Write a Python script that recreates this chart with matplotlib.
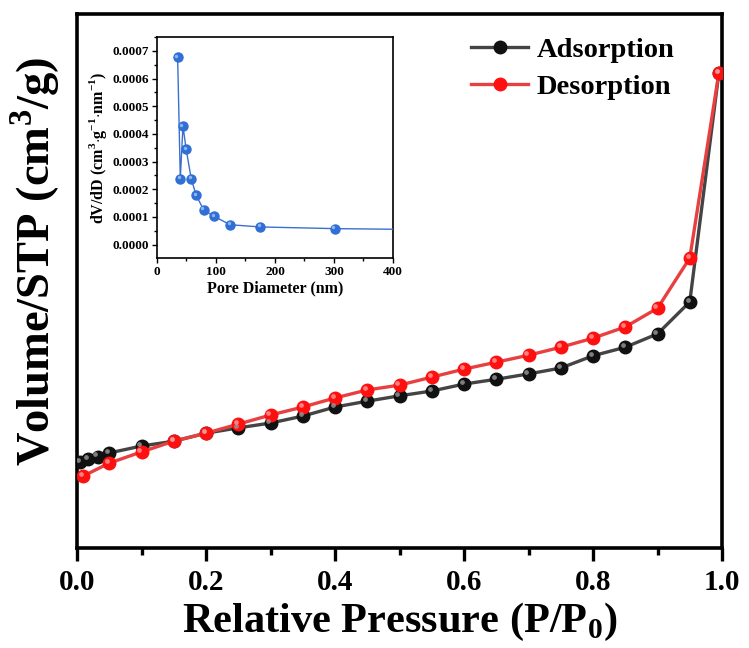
import numpy as np
import matplotlib
matplotlib.use("Agg")
import matplotlib.pyplot as plt
from matplotlib.transforms import offset_copy
from matplotlib.ticker import MultipleLocator, NullLocator

plt.rcParams['font.family'] = ['Liberation Serif', 'DejaVu Serif']
plt.rcParams['font.weight'] = 'bold'
plt.rcParams['mathtext.fontset'] = 'custom'
plt.rcParams['mathtext.rm'] = 'Liberation Serif:bold'
plt.rcParams['mathtext.bf'] = 'Liberation Serif:bold'

# -----------------------------
# Isotherm data (arbitrary volume units)
# -----------------------------
ads_p = [0.005, 0.017, 0.032, 0.05, 0.10, 0.15, 0.20, 0.25, 0.30, 0.35, 0.40,
         0.45, 0.50, 0.55, 0.60, 0.65, 0.70, 0.75, 0.80, 0.85, 0.90, 0.95, 0.995]
ads_v = [16.1, 16.7, 17.1, 17.8, 19.1, 20.0, 21.5, 22.5, 23.4, 24.7, 26.4,
         27.5, 28.5, 29.4, 30.7, 31.6, 32.6, 33.7, 36.0, 37.6, 40.1, 46.1, 88.9]

des_p = [0.01, 0.05, 0.10, 0.15, 0.20, 0.25, 0.30, 0.35, 0.40, 0.45, 0.50,
         0.55, 0.60, 0.65, 0.70, 0.75, 0.80, 0.85, 0.90, 0.95, 0.995]
des_v = [13.5, 15.9, 18.0, 20.0, 21.5, 23.2, 24.9, 26.4, 28.1, 29.6, 30.5,
         32.0, 33.5, 34.8, 36.1, 37.6, 39.3, 41.4, 44.9, 54.3, 88.9]

# pore size distribution (inset)
pore_d = [35, 39.5, 44, 49.5, 58, 66.5, 79, 97, 124, 175, 301, 430]
pore_dv = [0.000676, 0.000238, 0.000428, 0.000344, 0.000238, 0.000178,
           0.000126, 0.000102, 0.000072, 0.000064, 0.000058, 0.000055]


def sphere(ax, x, y, color, light, ms, lw, lc, label=None):
    ax.plot(x, y, '-', color=lc, lw=lw, marker='o', ms=ms, mfc=color,
            mec=color, label=label, zorder=3)
    hl = offset_copy(ax.transData, fig=ax.figure, x=-ms * 0.18, y=ms * 0.18,
                     units='points')
    ax.plot(x, y, 'o', ms=ms * 0.38, mfc=light, mec='none', alpha=0.8,
            transform=hl, zorder=4)


fig = plt.figure(figsize=(7.49, 6.48), dpi=100)
ax = fig.add_axes([0.1028, 0.1543, 0.8612, 0.8241])

sphere(ax, ads_p, ads_v, '#111111', '#9a9a9a', 9, 2.4, '#444444', 'Adsorption')
sphere(ax, des_p, des_v, '#ff1010', '#ff9a9a', 9, 2.4, '#e84040', 'Desorption')

ax.set_xlim(0, 1.0)
ax.set_ylim(0, 100)
ax.xaxis.set_minor_locator(MultipleLocator(0.1))
ax.yaxis.set_major_locator(NullLocator())
ax.set_xticks(np.arange(0, 1.01, 0.2))
ax.set_xticklabels([f"{v:.1f}" for v in np.arange(0, 1.01, 0.2)])
ax.tick_params(axis='x', which='major', direction='out', length=9, width=2.4,
               labelsize=21, pad=6)
ax.tick_params(axis='x', which='minor', direction='out', length=5, width=2.4)
for s in ax.spines.values():
    s.set_linewidth(2.6)

ax.set_xlabel(r'Relative Pressure (P/P$_\mathregular{0}$)', fontsize=30.5,
              fontweight='bold', labelpad=4)
ax.set_ylabel(r'Volume/STP (cm$^\mathregular{3}$/g)', fontsize=33.5,
              fontweight='bold')
ax.yaxis.set_label_coords(-0.024, 0.537)

leg = ax.legend(loc='upper left', bbox_to_anchor=(0.58, 0.994), frameon=False,
                fontsize=20.5, handlelength=2.0, handletextpad=0.3,
                labelspacing=0.4, borderaxespad=0.3)
for t in leg.get_texts():
    t.set_fontweight('bold')

# -----------------------------
# Inset: pore size distribution
# -----------------------------
ins = fig.add_axes([0.2096, 0.6019, 0.3151, 0.3410])
sphere(ins, pore_d, pore_dv, '#2f6fd6', '#a9c8f5', 6.5, 1.0, '#3a6fd0')
ins.set_xlim(0, 400)
ins.set_ylim(-0.000048, 0.00075)
ins.xaxis.set_major_locator(MultipleLocator(100))
ins.xaxis.set_minor_locator(MultipleLocator(50))
ins.yaxis.set_major_locator(MultipleLocator(0.0001))
ins.yaxis.set_minor_locator(MultipleLocator(0.00005))
ins.yaxis.set_major_formatter(matplotlib.ticker.FormatStrFormatter('%.4f'))
ins.tick_params(which='major', direction='out', length=3.5, width=1.0,
                labelsize=9.5, pad=2)
ins.tick_params(which='minor', direction='out', length=2, width=1.0)
for s in ins.spines.values():
    s.set_linewidth(1.2)
ins.set_xlabel('Pore Diameter (nm)', fontsize=11.5, fontweight='bold', labelpad=2)
ins.set_ylabel(r'dV/dD (cm$^\mathregular{3}$$\cdot$g$^\mathregular{-1}$$\cdot$nm$^\mathregular{-1}$)',
               fontsize=11.5, fontweight='bold', labelpad=3)

fig.savefig('out.png', dpi=100)
